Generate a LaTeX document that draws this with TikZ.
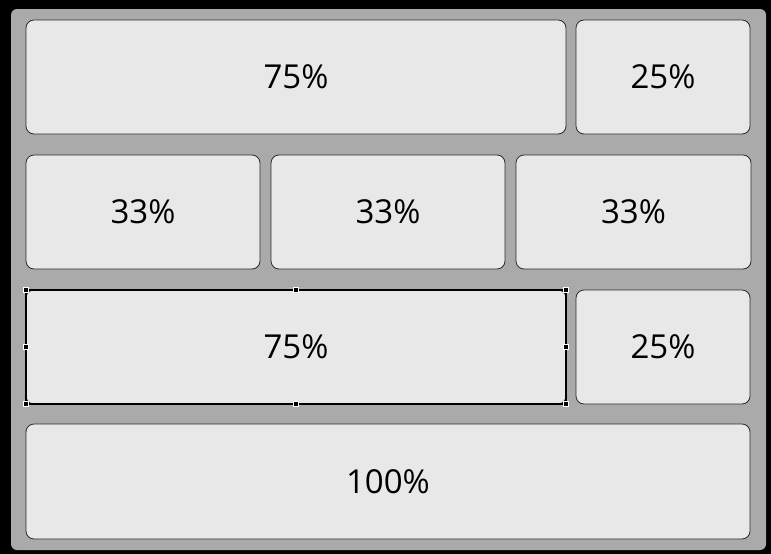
\documentclass[tikz,border=0pt]{standalone}
\usepackage{fontspec}
\setmainfont{Open Sans}
\usepackage{xcolor}
\definecolor{panelgray}{HTML}{AAAAAA}
\definecolor{cellgray}{HTML}{E8E8E8}
\definecolor{darkgray}{HTML}{2B2B2B}
\usetikzlibrary{positioning}

\begin{document}
\begin{tikzpicture}[x=1pt, y=1pt, cell/.style={
    	rectangle, minimum height = 114pt, rounded corners = 8pt, outer sep = 0pt,
    	line width = 0.8pt, draw = darkgray, fill = cellgray,
    	font = \fontsize{33}{39}\selectfont},
    	handle/.style={rectangle, minimum size = 5pt, inner sep = 0pt,
    	line width = 1pt, draw = white, fill = black}]
    	\useasboundingbox (0,0) rectangle (771,-554);
    	\fill[black] (0,0) rectangle (771,-554);
    	\fill[panelgray, rounded corners = 6pt] (11,-9) rectangle (766,-550);
    	\node (A) [cell, minimum width = 540pt, anchor = north west] at (26,-20) {75\%};
    	\node (AA) [cell, minimum width = 174pt, right=10pt of A.east,anchor=west] {25\%};
    	\node (B) [cell, minimum width = 234pt, below=21pt of A.south west,anchor=north west] {33\%};
    	\node (BB) [cell, minimum width = 234pt, right=11pt of B.east,anchor=west] {33\%};
    	\node (BBB) [cell, minimum width = 235pt, right=11pt of BB.east,anchor=west] {33\%};
    	\node (C) [cell, minimum width = 540pt, below=21pt of B.south west,anchor=north west] {75\%};
    	\node (CC) [cell, minimum width = 174pt, right=10pt of C.east,anchor=west] {25\%};
    	\node (D) [cell, minimum width = 724pt, minimum height = 115pt, below=20pt of C.south west,anchor=north west] {100\%};
    	% selection frame
    	\draw[line width = 2pt] (C.south west) rectangle (C.north east);
    	\foreach \a [count=\i] in {north west, north, north east, east, south east, south, south west, west}
    		\node (h\i) [handle] at (C.\a) {};
	\end{tikzpicture}
\end{document}
